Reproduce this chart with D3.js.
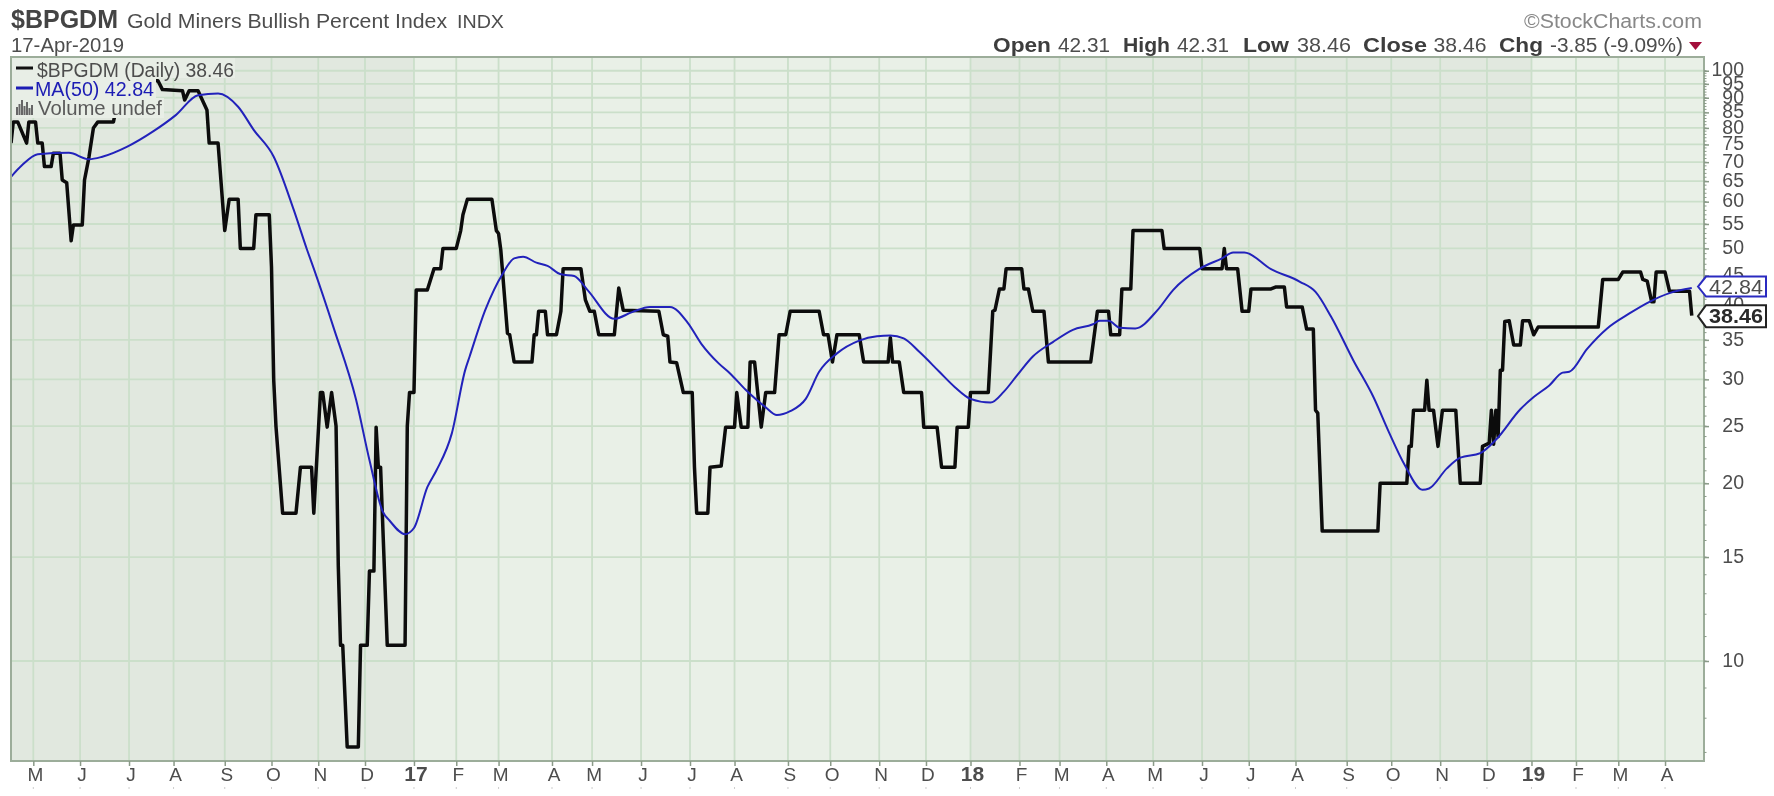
<!DOCTYPE html>
<html><head><meta charset="utf-8">
<style>
html,body{margin:0;padding:0;background:#fff;overflow:hidden}
svg{display:block;filter:blur(0.55px)}
text{font-family:"Liberation Sans",Arial,sans-serif}
</style>
<script src="https://cdn.jsdelivr.net/npm/d3@7"></script>
</head><body><svg id="c" width="1774" height="796"></svg>
<script>
// trading-day index (0 = 2 May 2016) and value of the $BPGDM line
const bpDay=[-10,-9,-7,-3,-2,1,2,4,5,8,9,12,13,15,17,18,22,23,25,27,29,36,38,48,55,56,58,67,68,70,74,78,79,83,86,88,92,93,99,100,106,107,108,109,112,118,120,125,126,129,130,132,134,136,137,138,139,141,146,147,150,151,153,154,155,156,159,167,168,169,171,172,177,180,183,184,190,192,193,195,206,208,209,210,213,214,216,224,225,226,227,230,231,235,237,238,246,248,250,252,254,261,263,265,281,283,285,286,289,292,296,297,298,303,304,309,311,315,316,318,321,322,324,327,329,333,335,338,340,353,355,357,359,361,371,373,384,385,386,389,391,399,400,406,408,414,415,420,421,429,431,432,434,436,437,444,445,447,449,454,456,475,478,483,484,488,489,493,494,507,508,524,525,534,535,536,541,543,546,547,556,558,562,563,570,572,575,576,577,579,604,605,617,618,619,620,625,626,627,629,631,633,639,641,650,651,654,655,656,657,658,659,660,661,663,665,668,669,672,674,676,703,705,712,714,722,723,725,727,728,729,733,735,744,745];
const bpValue=[75.4,81.9,81.9,75.4,81.9,81.9,75.4,75.4,68.8,68.8,72.5,72.5,65.3,64.6,51.5,54.8,54.8,65.3,71.4,80,81.9,81.9,89.2,92.9,96.2,96.2,92.9,92.5,89.2,92.5,92.5,85.8,75.4,75.4,53.6,60.6,60.6,50,50,57,57,46.5,29.9,25,17.8,17.8,21.3,21.3,17.8,28.5,28.5,24.9,28.5,25,14.5,10.63,10.63,7.15,7.15,10.63,10.63,14.2,14.2,24.9,21.3,21.3,10.63,10.63,25,28.5,28.5,42.5,42.5,46.2,46.2,50,50,53.6,57,60.6,60.6,53.6,53,49.7,35.9,35.7,32.1,32.1,35.7,35.7,39.13,39.13,35.7,35.7,39.13,46.2,46.2,40.9,39.13,39.13,35.7,35.7,42.84,39.3,39.13,35.7,35.5,32.1,32,28.5,28.5,21.3,17.8,17.8,21.3,21.4,24.9,24.9,28.5,24.9,24.9,32.1,32.1,24.9,28.5,28.5,35.7,35.7,39.13,39.13,35.7,35.7,32.1,35.7,35.7,32.1,32.1,35.3,32.1,32.1,28.5,28.5,24.9,24.9,21.3,21.3,24.9,24.9,28.5,28.5,39.13,39.3,42.7,42.7,46.2,46.2,42.7,42.7,39.13,39.13,32.1,32.1,39.13,39.13,35.7,35.7,42.7,42.7,53.6,53.6,50,50,46.2,46.2,50,46.2,46.2,39.13,39.13,42.7,42.7,43,43,39.8,39.8,36.5,36.5,26.6,26.3,16.6,16.6,20,20,23.1,23.1,26.6,26.6,29.9,26.6,26.6,23.1,26.6,26.6,20,20,23.1,23.4,26.6,23.3,26.6,24,31.1,31.1,37.6,37.7,34.3,34.3,37.7,37.7,35.7,36.8,36.8,44.3,44.3,45.6,45.6,44.3,44,40.6,40.6,45.6,45.6,42.31,42.31,38.46];
// MA(50)
const maDay=[-10,-5,2,16,25,31,42,54,64,74,83,92,99,108,117,123,126,135,145,151,157,160,167,171,177,181,188,194,196,203,211,216,220,226,231,237,243,249,261,269,277,286,294,300,308,313,320,329,334,340,347,353,361,371,379,385,391,398,407,414,421,430,436,442,449,458,467,476,479,483,488,495,505,512,524,534,539,544,556,569,576,583,593,602,609,616,624,627,635,641,650,657,668,674,681,687,690,698,707,717,726,735,745];
const maValue=[66.1,69.2,72.2,72.6,70.8,71.5,74.3,79,84.1,90.9,91.5,86.9,79.4,71.5,58.1,49.7,46.2,36.6,27.7,21.9,17.9,17.3,16.4,16.8,19.7,21,24.3,31.1,32.8,39.3,45.4,48.1,48.4,47.3,46.7,45.2,44.9,42.5,38,39,39.8,39.8,37.4,34.5,31.9,30.7,28.8,26.9,26.1,26.5,27.8,30.9,33.2,34.9,35.5,35.6,35.2,33.4,30.9,29.1,27.8,27.4,28.6,30.5,32.8,34.7,36.4,37.2,37.7,37.7,36.7,36.6,39.3,42.5,46.2,48.1,49.2,49.2,46.1,43.9,42.2,38.3,32.3,28,24.4,21.5,19.5,19.6,21.2,22.1,22.5,23.7,26.7,28,29.3,30.8,30.9,33.8,36.6,38.8,40.6,42,42.84];
// axis
const monthDays=[0,21,43,63,86,107,128,149,171,190,209,233,251,273,295,315,339,358,380,401,421,443,461,482,503,525,546,567,590,610,632,653,673,693,712,733];
const monthLabels=["M","J","J","A","S","O","N","D","17","F","M","A","M","J","J","A","S","O","N","D","18","F","M","A","M","J","J","A","S","O","N","D","19","F","M","A"];
const yTicks=[100,95,90,85,80,75,70,65,60,55,50,45,40,35,30,25,20,15,10];
const yMinor=d3.range(7,101);
const darkYears=[[-10.02,171],[421,673]];
// text
const headerLeft=[["$BPGDM",11,28,107,26,"bold","#444"],["Gold Miners Bullish Percent Index",127,28,320,21,"normal","#4d4d4d"],["INDX",457,28,47,18,"normal","#4d4d4d"],["17-Apr-2019",11,52,113,20,"normal","#4d4d4d"],["©StockCharts.com",1524,28,178,20,"normal","#888"]];
const headerRight=[["Open",993,58,"bold"],["42.31",1058,52,"normal"],["High",1123,47,"bold"],["42.31",1177,52,"normal"],["Low",1243,46,"bold"],["38.46",1297,54,"normal"],["Close",1363,64,"bold"],["38.46",1433.5,53,"normal"],["Chg",1499,44,"bold"],["-3.85 (-9.09%)",1550,133,"normal"]];
const legendRows=[["$BPGDM (Daily) 38.46","#4d4d4d",37,197,76.5,235],["MA(50) 42.84","#1c1cb4",35,119,96,156],["Volume undef","#5a5a5a",38,124,115,164]];
const volumeIcon=[8,11,15,9,13,7,10];
const lastLabels=[[42.84,"42.84","#2a2ac0","#4d4d4d","normal"],[38.46,"38.46","#222","#2a2a2a","bold"]];

const L=11,R=1704,T=57,B=761;
const x=d3.scaleLinear().domain([-10.02,750.5]).range([L,R]);
const y=d3.scaleLog().domain([6.77,105.5]).range([B,T]);
const svg=d3.select("#c");
const defs=svg.append("defs");
defs.append("clipPath").attr("id","plot").append("rect").attr("x",L).attr("y",T).attr("width",R-L).attr("height",B-T);

svg.append("rect").attr("x",L).attr("y",T).attr("width",R-L).attr("height",B-T).attr("fill","#e9f0e7");
svg.selectAll("rect.band").data(darkYears).join("rect").attr("class","band")
  .attr("x",d=>x(d[0])).attr("y",T).attr("width",d=>x(d[1])-x(d[0])).attr("height",B-T).attr("fill","#e1e8df");

const grid="#cbdfca";
svg.append("g").selectAll("line").data(yTicks).join("line")
  .attr("x1",L).attr("x2",R).attr("y1",d=>y(d)).attr("y2",d=>y(d)).attr("stroke",grid).attr("stroke-width",1.8);
svg.append("g").selectAll("line").data(monthDays).join("line")
  .attr("x1",d=>x(d)).attr("x2",d=>x(d)).attr("y1",T).attr("y2",B).attr("stroke",grid).attr("stroke-width",1.8);

const g=svg.append("g").attr("clip-path","url(#plot)");
const ln=(days)=>d3.line().x((d,i)=>x(days[i])).y(d=>y(d));
g.append("path").attr("d",ln(bpDay)(bpValue)).attr("fill","none").attr("stroke","#0c0c0c").attr("stroke-width",3.5).attr("stroke-linejoin","round");
g.append("path").attr("d",ln(maDay).curve(d3.curveMonotoneX)(maValue)).attr("fill","none").attr("stroke","#2222bb").attr("stroke-width",2).attr("stroke-linejoin","round");

// frame
svg.append("rect").attr("x",L).attr("y",T).attr("width",R-L).attr("height",B-T).attr("fill","none").attr("stroke","#9cad9a").attr("stroke-width",2);

// right axis
svg.append("g").selectAll("line").data(yMinor).join("line")
  .attr("x1",R).attr("x2",R+2.5).attr("y1",d=>y(d)).attr("y2",d=>y(d)).attr("stroke","#8a9a88").attr("stroke-width",1);
const ya=svg.append("g").attr("transform",`translate(${R},0)`)
  .call(d3.axisRight(y).tickValues(yTicks).tickSize(5).tickPadding(34).tickFormat(d3.format("d")));
ya.select(".domain").remove();
ya.selectAll("line").attr("stroke","#8a9a88").attr("stroke-width",1.5);
ya.selectAll("text").attr("x",40).attr("text-anchor","end").attr("dy","0.27em").attr("fill","#4d4d4d").style("font-size","19.5px").style("font-family",'"Liberation Sans",Arial,sans-serif');

// bottom axis
const xa=svg.append("g").attr("transform",`translate(0,${B})`)
  .call(d3.axisBottom(x).tickValues(monthDays).tickSize(5).tickPadding(0).tickFormat((d,i)=>monthLabels[i]));
xa.select(".domain").remove();
xa.selectAll("line").attr("stroke","#8a9a88").attr("stroke-width",1.5);
xa.selectAll("text").attr("x",1.5).attr("y",20).attr("dy",0).attr("text-anchor","middle").attr("fill","#4d4d4d")
  .style("font-size",(d,i)=>/\d/.test(monthLabels[i])?"21px":"19px")
  .style("font-weight",(d,i)=>/\d/.test(monthLabels[i])?"bold":"normal")
  .style("font-family",'"Liberation Sans",Arial,sans-serif');
svg.append("g").selectAll("rect").data(monthDays).join("rect")
  .attr("x",d=>x(d)-0.5).attr("y",787).attr("width",1).attr("height",2).attr("fill","#ccc");

// legend
legendRows.forEach((r,i)=>{
  svg.append("rect").attr("x",L+1).attr("y",T+1+i*20).attr("width",r[5]-L-1).attr("height",20).attr("fill","#e8eee6");
});
legendRows.forEach(r=>{
  svg.append("text").text(r[0]).attr("x",r[2]).attr("y",r[4]).attr("textLength",r[3]).attr("lengthAdjust","spacingAndGlyphs").attr("fill",r[1]).style("font-size","19.5px");
});
svg.append("rect").attr("x",16).attr("y",66.5).attr("width",17).attr("height",3).attr("fill","#111");
svg.append("rect").attr("x",16).attr("y",86.5).attr("width",17).attr("height",3).attr("fill","#1c1cb4");
svg.append("g").selectAll("rect").data(volumeIcon).join("rect")
  .attr("x",(d,i)=>16+i*2.5).attr("y",d=>115-d).attr("width",2).attr("height",d=>d).attr("fill","#666");

// last-value labels
lastLabels.forEach(l=>{
  const base=l[0]===42.84?y(l[0])-1.5:y(l[0])+0.5, h=l[0]===42.84?10:11;
  const p=d3.path();p.moveTo(1698,base);p.lineTo(1706,base-h);p.lineTo(1766,base-h);p.lineTo(1766,base+h);p.lineTo(1706,base+h);p.closePath();
  svg.append("path").attr("d",p.toString()).attr("fill","#fff").attr("stroke",l[2]).attr("stroke-width",2);
  svg.append("text").text(l[1]).attr("x",1736).attr("y",base+7).attr("text-anchor","middle").attr("fill",l[3]).attr("font-weight",l[4]).attr("textLength",54).attr("lengthAdjust","spacingAndGlyphs").style("font-size","21px");
});

// headers
headerLeft.forEach(h=>{
  svg.append("text").text(h[0]).attr("x",h[1]).attr("y",h[2]).attr("textLength",h[3]).attr("lengthAdjust","spacingAndGlyphs").attr("font-weight",h[5]).attr("fill",h[6]).style("font-size",h[4]+"px");
});
headerRight.forEach(h=>{
  svg.append("text").text(h[0]).attr("x",h[1]).attr("y",52).attr("textLength",h[2]).attr("lengthAdjust","spacingAndGlyphs").attr("font-weight",h[3]).attr("fill",h[3]=="bold"?"#3d3d3d":"#4d4d4d").style("font-size",h[3]=="bold"?"20.5px":"20px");
});
svg.append("path").attr("d",d3.line()([[1689,42],[1702,42],[1695.5,50]])+"Z").attr("fill","#a30f3c");
</script></body></html>
